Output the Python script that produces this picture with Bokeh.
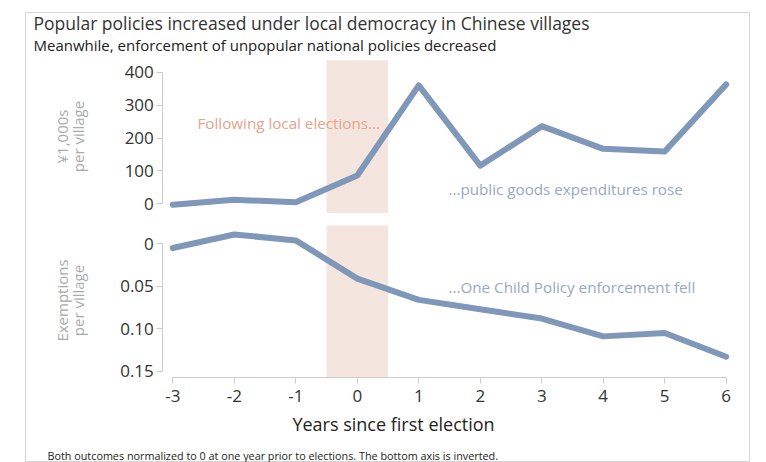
import math
from bokeh.plotting import figure
from bokeh.models import Range1d, LinearAxis, FixedTicker, Label
from bokeh.embed import file_html
from bokeh.resources import INLINE

# ---------------- data ----------------
years = [-3, -2, -1, 0, 1, 2, 3, 4, 5, 6]
public_goods = [-3, 12, 5, 86, 360, 116, 236, 167, 159, 363]          # ¥1,000s per village
exemptions = [0.005, -0.011, -0.004, 0.041, 0.066, 0.077, 0.088, 0.109, 0.105, 0.133]
top_ticks = [0, 100, 200, 300, 400]
bot_ticks = [0, 0.05, 0.10, 0.15]
bot_tick_labels = ["0", "0.05", "0.10", "0.15"]
x_tick_labels = ["-3", "-2", "-1", "0", "1", "2", "3", "4", "5", "6"]
election_window = [-0.5, 0.5]
top_panel_extent = [-28, 436]
bot_panel_extent = [-0.0215, 0.157]

# ---------------- layout (picture pixels) ----------------
W, H = 766, 462
FL, FR, FT, FB = 25, 749, 12, 462
X0PX, XSTEP = 172.3, 61.49            # x=-3 pixel, pixels per year
TOP0, TOP400 = 203.3, 71.7
BOT0, BOT15 = 243.3, 370.7

kx = XSTEP
x_start = -3 - (X0PX - FL) / kx
x_end = -3 + (FR - X0PX) / kx
kt = (TOP0 - TOP400) / 400.0
t_start = -(FB - TOP0) / kt
t_end = 400 + (TOP400 - FT) / kt
kb = (BOT15 - BOT0) / 0.15
b_top = -(BOT0 - FT) / kb
b_bottom = 0.15 + (FB - BOT15) / kb

def PX(px):
    return x_start + (px - FL) / kx

def PY(py):
    return t_end - (py - FT) / kt

def BY(py):
    return b_top + (py - FT) / kb

FONT = "Open Sans"
LINE_COLOR = "#7f97b8"
AXIS_GREY = "#cccccc"

p = figure(width=W, height=H, output_backend="svg", toolbar_location=None,
           x_range=Range1d(x_start, x_end), y_range=Range1d(t_start, t_end),
           x_axis_location=None, y_axis_location=None,
           min_border_left=FL, min_border_right=W - FR,
           min_border_top=FT, min_border_bottom=H - FB)
p.extra_y_ranges = {"bot": Range1d(b_bottom, b_top)}
p.grid.visible = False
p.outline_line_color = "#d4d4d4"
p.background_fill_color = "white"
p.border_fill_color = "white"

# shaded election window
p.quad(left=[election_window[0]], right=[election_window[1]],
       bottom=[top_panel_extent[0]], top=[top_panel_extent[1]],
       fill_color="#f5e5df", line_color=None)
p.quad(left=[election_window[0]], right=[election_window[1]],
       bottom=[bot_panel_extent[1]], top=[bot_panel_extent[0]],
       fill_color="#f5e5df", line_color=None, y_range_name="bot")

# lines
p.line(years, public_goods, line_width=6, line_color=LINE_COLOR,
       line_cap="round", line_join="round")
p.line(years, exemptions, line_width=6, line_color=LINE_COLOR,
       line_cap="round", line_join="round", y_range_name="bot")

def style_axis(ax):
    ax.axis_line_color = AXIS_GREY
    ax.major_tick_line_color = AXIS_GREY
    ax.minor_tick_line_color = None
    ax.major_tick_out = 6
    ax.major_tick_in = 0
    ax.major_label_text_font = FONT
    ax.major_label_text_font_size = "17px"
    ax.major_label_text_color = "#333333"

yaxis_x = PX(162.3)
ya = LinearAxis(ticker=FixedTicker(ticks=top_ticks), fixed_location=yaxis_x,
                bounds=(top_ticks[0], top_ticks[-1]))
style_axis(ya)
ya.major_label_standoff = 3
p.add_layout(ya, "left")

yb = LinearAxis(y_range_name="bot", ticker=FixedTicker(ticks=bot_ticks),
                fixed_location=yaxis_x, bounds=(bot_ticks[0], bot_ticks[-1]),
                major_label_overrides={t: s for t, s in zip(bot_ticks, bot_tick_labels)})
style_axis(yb)
yb.major_label_standoff = 3
p.add_layout(yb, "left")

xa = LinearAxis(y_range_name="bot", ticker=FixedTicker(ticks=years),
                fixed_location=BY(377.3), bounds=(years[0], years[-1]),
                major_label_overrides={t: s for t, s in zip(years, x_tick_labels)})
style_axis(xa)
xa.major_label_standoff = 6
p.add_layout(xa, "below")

def label(text, px, py, size, color, align="left", angle=0.0):
    p.add_layout(Label(x=PX(px), y=PY(py), text=text, text_font=FONT,
                       text_font_size=size, text_color=color, text_align=align,
                       text_baseline="middle", angle=angle))

label("Popular policies increased under local democracy in Chinese villages", 33, 22, "17.5px", "#333333")
label("Meanwhile, enforcement of unpopular national policies decreased", 33, 44, "15px", "#222222")
label("¥1,000s", 61, 136, "15px", "#aaaaaa", "center", math.pi / 2)
label("per village", 77, 136, "15px", "#aaaaaa", "center", math.pi / 2)
label("Exemptions", 61, 300, "15px", "#aaaaaa", "center", math.pi / 2)
label("per village", 77, 300, "15px", "#aaaaaa", "center", math.pi / 2)
label("Following local elections...", 197, 122, "15.2px", "#e3a48c")
label("...public goods expenditures rose", 448, 188, "15.2px", "#97a9c3")
label("...One Child Policy enforcement fell", 448, 286, "15.2px", "#97a9c3")
label("Years since first election", 393, 423, "18px", "#222222", "center")
label("Both outcomes normalized to 0 at one year prior to elections. The bottom axis is inverted.",
      47, 455, "10.8px", "#222222")

open("out.html", "w").write(file_html(p, INLINE))
